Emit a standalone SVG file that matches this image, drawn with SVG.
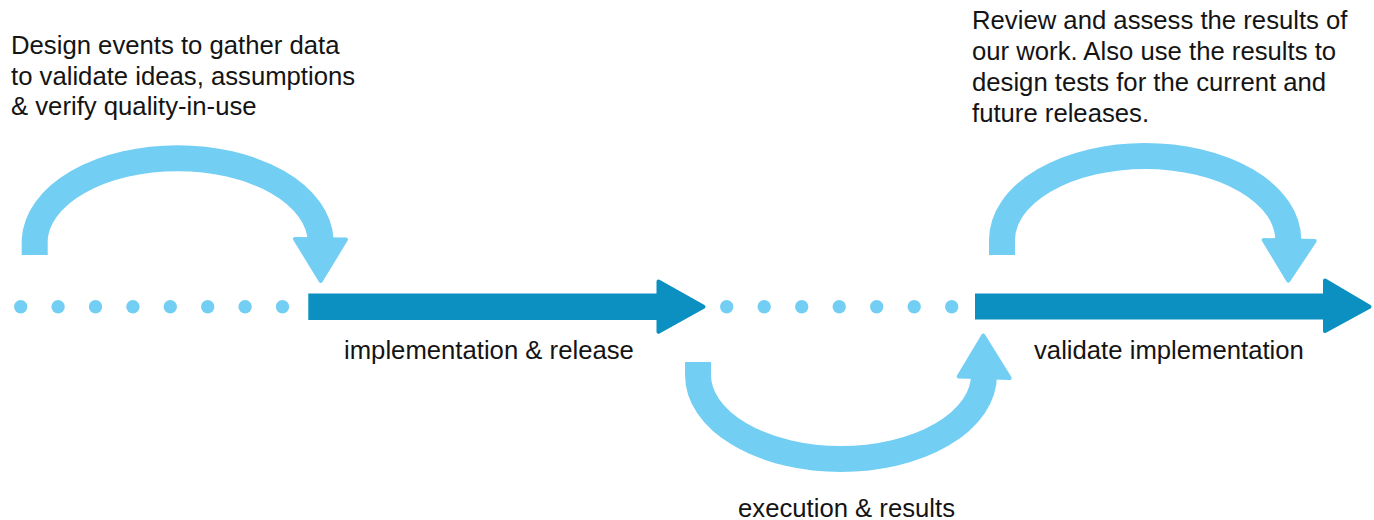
<svg xmlns="http://www.w3.org/2000/svg" width="1374" height="520" viewBox="0 0 1374 520">
<style>
.lbl{font-family:"Liberation Sans",Arial,Helvetica,sans-serif;font-size:25.7px;fill:#141414}
.dot{fill:#73CEF4}
.arc{fill:none;stroke:#73CEF4;stroke-width:26}
.ahl{fill:#73CEF4;stroke:#73CEF4;stroke-width:4;stroke-linejoin:round}
.bar{fill:#0B90C1}
.ahd{fill:#0B90C1;stroke:#0B90C1;stroke-width:4;stroke-linejoin:round}
</style>
<rect width="1374" height="520" fill="#ffffff"/>
<g id="dots-1">
<circle class="dot" cx="20.7" cy="306.7" r="6.7"/>
<circle class="dot" cx="58.1" cy="306.7" r="6.7"/>
<circle class="dot" cx="95.5" cy="306.7" r="6.7"/>
<circle class="dot" cx="132.9" cy="306.7" r="6.7"/>
<circle class="dot" cx="170.3" cy="306.7" r="6.7"/>
<circle class="dot" cx="207.7" cy="306.7" r="6.7"/>
<circle class="dot" cx="245.1" cy="306.7" r="6.7"/>
<circle class="dot" cx="282.5" cy="306.7" r="6.7"/>
</g>
<g id="dots-2">
<circle class="dot" cx="726.7" cy="306.7" r="6.7"/>
<circle class="dot" cx="764.2" cy="306.7" r="6.7"/>
<circle class="dot" cx="801.7" cy="306.7" r="6.7"/>
<circle class="dot" cx="839.2" cy="306.7" r="6.7"/>
<circle class="dot" cx="876.7" cy="306.7" r="6.7"/>
<circle class="dot" cx="914.2" cy="306.7" r="6.7"/>
<circle class="dot" cx="951.7" cy="306.7" r="6.7"/>
</g>
<g id="connectors">
<g id="arrow-implementation">
<rect class="bar" x="308.3" y="293.5" width="350" height="26.5"/>
<polygon class="ahd" points="658.5,281.5 703.5,306.7 658.5,331.8"/>
</g>
<g id="arrow-validate">
<rect class="bar" x="975" y="293.5" width="350" height="26"/>
<polygon class="ahd" points="1325,280.5 1369.5,306.7 1325,331"/>
</g>
<g id="arc-design">
<path class="arc" d="M34.7 255 V240 A143 84 0 0 1 320.6 240"/>
<polygon class="ahl" points="295,239 346,239.5 320.7,281"/>
</g>
<g id="arc-execution">
<path class="arc" d="M698 362 V375 A143 84 0 0 0 984 375"/>
<polygon class="ahl" points="958.7,376.5 1009.7,378 983.3,335.5"/>
</g>
<g id="arc-review">
<path class="arc" d="M1002 255 V240 A143 84 0 0 1 1288.3 240"/>
<polygon class="ahl" points="1263.7,240 1314.7,241 1288.3,280.7"/>
</g>
</g>
<g id="label-design">
<text class="lbl" x="11" y="54">Design events to gather data</text>
<text class="lbl" x="11" y="84.5">to validate ideas, assumptions</text>
<text class="lbl" x="11" y="115">&amp; verify quality-in-use</text>
</g>
<g id="label-review">
<text class="lbl" x="972" y="29">Review and assess the results of</text>
<text class="lbl" x="972" y="60">our work. Also use the results to</text>
<text class="lbl" x="972" y="91">design tests for the current and</text>
<text class="lbl" x="972" y="122">future releases.</text>
</g>
<g id="label-implementation">
<text class="lbl" x="344" y="359">implementation &amp; release</text>
</g>
<g id="label-validate">
<text class="lbl" x="1034" y="359">validate implementation</text>
</g>
<g id="label-execution">
<text class="lbl" x="738" y="517">execution &amp; results</text>
</g>
</svg>
